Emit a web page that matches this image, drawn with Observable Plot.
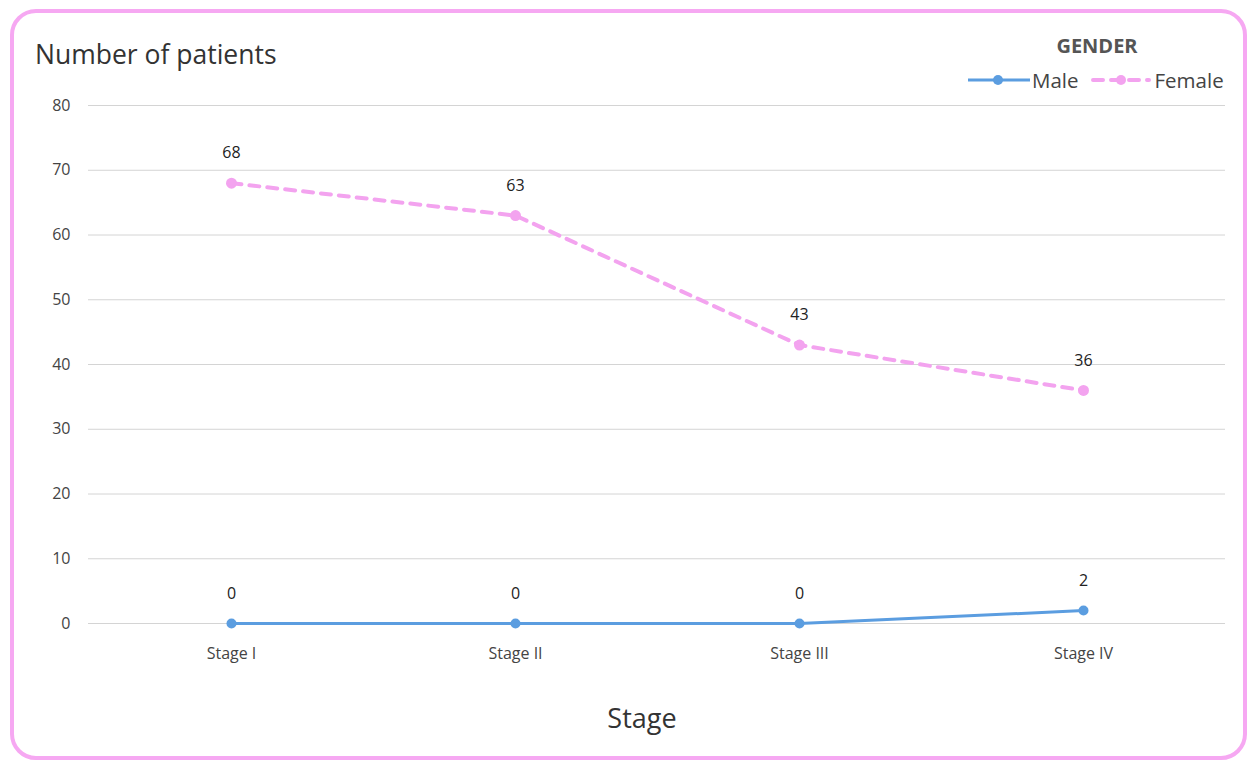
<!DOCTYPE html>
<html>
<head>
<meta charset="utf-8">
<script src="https://cdn.jsdelivr.net/npm/d3@7"></script>
<script src="https://cdn.jsdelivr.net/npm/@observablehq/plot@0.6"></script>
<style>
  html, body { margin: 0; padding: 0; background: #fff; }
  body { width: 1256px; height: 761px; position: relative; overflow: hidden; font-family: "Open Sans", "Noto Sans", sans-serif; }
  #frame { position: absolute; left: 10px; top: 9px; width: 1229px; height: 743px; border: 4px solid #f6a8f2; border-radius: 26px; background: #fff; }
  #chart { position: absolute; left: 0; top: 0; }
  #title { position: absolute; left: 35px; top: 36px; font-size: 26.5px; color: #333; white-space: nowrap; }
  #xlabel { position: absolute; left: 0; width: 1284px; top: 699px; text-align: center; font-size: 27px; color: #333; }
  #legendTitle { position: absolute; left: 1037px; width: 120px; top: 32px; text-align: center; font-size: 20px; font-weight: bold; color: #555; }
  #legend { position: absolute; left: 966px; top: 65px; height: 30px; display: flex; align-items: center; font-size: 20.5px; color: #444; white-space: nowrap; }
  #legend svg { display: block; }
</style>
</head>
<body>
<div id="frame"></div>
<div id="chart"></div>
<div id="title">Number of patients</div>
<div id="legendTitle">GENDER</div>
<div id="legend"></div>
<div id="xlabel">Stage</div>
<script>
const stages = ["Stage I", "Stage II", "Stage III", "Stage IV"];
const maleValues = [0, 0, 0, 2];
const femaleValues = [68, 63, 43, 36];
const yTicks = [0, 10, 20, 30, 40, 50, 60, 70, 80];
const seriesNames = ["Male", "Female"];
const seriesColors = ["#5b9de0", "#f3a3ef"];

const male = stages.map((s, i) => ({stage: s, value: maleValues[i]}));
const female = stages.map((s, i) => ({stage: s, value: femaleValues[i]}));

const chart = Plot.plot({
  width: 1256,
  height: 761,
  marginLeft: 88,
  marginRight: 31,
  marginTop: 105,
  marginBottom: 138,
  style: {background: "transparent", fontFamily: "'Open Sans', 'Noto Sans', sans-serif", color: "#444"},
  x: {type: "point", domain: stages, padding: 0.5},
  y: {domain: [0, 80]},
  marks: [
    Plot.gridY(yTicks, {stroke: "#d4d4d4", strokeOpacity: 1}),
    Plot.axisY(yTicks, {tickSize: 0, tickPadding: 18, fontSize: 16, label: null, fill: "#444"}),
    Plot.axisX({tickSize: 0, tickPadding: 24, fontSize: 16, label: null, fill: "#444"}),
    Plot.line(male, {x: "stage", y: "value", stroke: seriesColors[0], strokeWidth: 3}),
    Plot.dot(male, {x: "stage", y: "value", r: 5, fill: seriesColors[0]}),
    Plot.line(female, {x: "stage", y: "value", stroke: seriesColors[1], strokeWidth: 4, strokeDasharray: "10,8", strokeLinecap: "round"}),
    Plot.dot(female, {x: "stage", y: "value", r: 5.5, fill: seriesColors[1]}),
    Plot.text(male, {x: "stage", y: "value", text: d => String(d.value), dy: -30, fontSize: 16, fill: "#222"}),
    Plot.text(female, {x: "stage", y: "value", text: d => String(d.value), dy: -30, fontSize: 16, fill: "#222"})
  ]
});
document.getElementById("chart").appendChild(chart);

// legend
const legend = document.getElementById("legend");
seriesNames.forEach((name, i) => {
  const ns = "http://www.w3.org/2000/svg";
  const svg = document.createElementNS(ns, "svg");
  svg.setAttribute("width", 64);
  svg.setAttribute("height", 20);
  const line = document.createElementNS(ns, "line");
  line.setAttribute("x1", i === 0 ? 2 : 4);
  line.setAttribute("x2", i === 0 ? 64 : 60);
  line.setAttribute("y1", 10);
  line.setAttribute("y2", 10);
  line.setAttribute("stroke", seriesColors[i]);
  line.setAttribute("stroke-width", i === 0 ? 3 : 4);
  if (i === 1) { line.setAttribute("stroke-dasharray", "10,8"); line.setAttribute("stroke-linecap", "round"); }
  svg.appendChild(line);
  const c = document.createElementNS(ns, "circle");
  c.setAttribute("cx", 32);
  c.setAttribute("cy", 10);
  c.setAttribute("r", 5);
  c.setAttribute("fill", seriesColors[i]);
  svg.appendChild(c);
  legend.appendChild(svg);
  const span = document.createElement("span");
  span.textContent = name;
  span.style.marginLeft = "2px";
  span.style.marginRight = i === 0 ? "10px" : "0";
  legend.appendChild(span);
});
</script>
</body>
</html>
